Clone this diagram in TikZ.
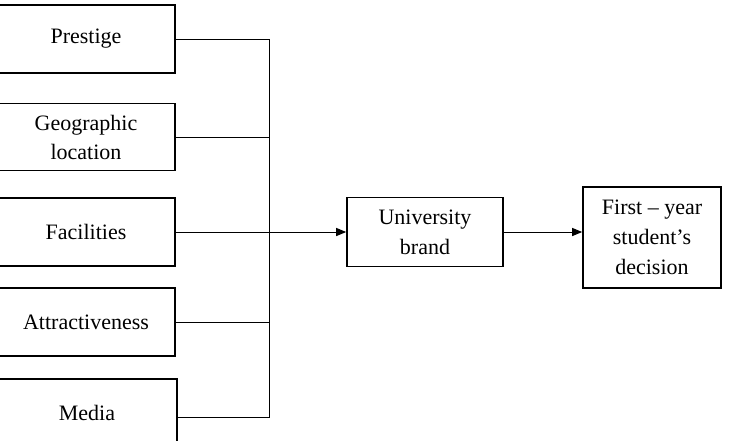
\documentclass[tikz,border=0pt]{standalone}
\usepackage{fontspec}
\setmainfont{Liberation Serif}
\usetikzlibrary{arrows.meta}
\begin{document}
\begin{tikzpicture}[x=1pt,y=-1pt,
  factor/.style={draw, line width=1.3pt, inner sep=0pt, minimum width=178pt,
    minimum height=68pt, align=center, font=\fontsize{22}{29}\selectfont},
  outbox/.style={draw, line width=1.6pt, inner sep=0pt, align=center,
    font=\fontsize{22}{30}\selectfont},
  link/.style={line width=1pt},
  arrowlink/.style={line width=1pt, -{Triangle[length=10pt,width=8pt]}}]
\useasboundingbox (0,0) rectangle (729,440);
\begin{scope}
\clip (0,0) rectangle (729,440);
% influencing factors on the left
\node[factor] (prestige) at (86,39) {Prestige};
\node[factor, minimum height=67pt] (geo) at (86,137) {Geographic\\location};
\node[factor] (fac) at (86,232) {Facilities};
\node[factor] (attr) at (86,322) {Attractiveness};
\node[factor, minimum width=180pt, minimum height=76pt] (media) at (87,417) {\raisebox{8pt}{Media}};
% brand and decision
\node[outbox, minimum width=156pt, minimum height=69pt] (uni) at (425,232) {University\\brand};
\node[outbox, minimum width=138pt, minimum height=101pt] (first) at (652,237.5) {First -- year\\student’s\\decision};
% collecting bus
\coordinate (bustop) at (269,39);
\coordinate (busbot) at (269,417);
\draw[link] (prestige.east) -- (bustop) -- (busbot) -- (media.east);
\draw[link] (geo.east) -- (geo.east -| bustop);
\draw[link] (attr.east) -- (attr.east -| bustop);
\draw[arrowlink] (fac.east) -- (uni.west);
\draw[arrowlink] (uni.east) -- (uni.east -| first.west);
\end{scope}
\end{tikzpicture}
\end{document}
